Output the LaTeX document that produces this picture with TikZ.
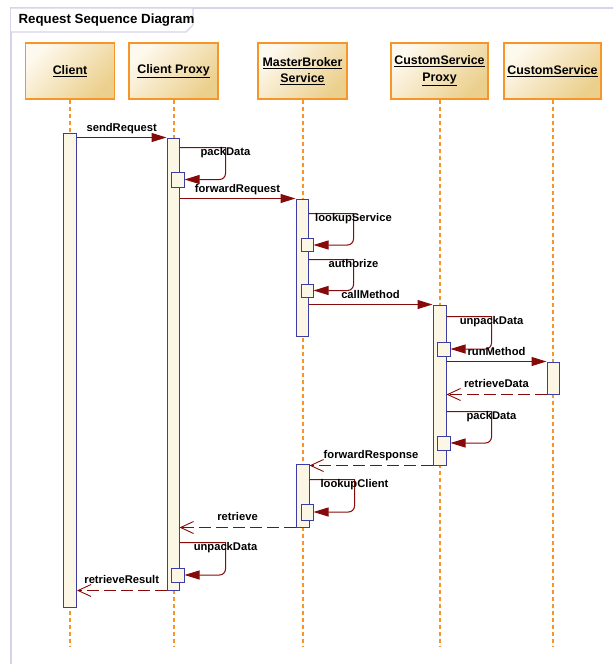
\documentclass[tikz,border=0pt]{standalone}
\usepackage{fontspec}
\setmainfont{Liberation Sans}
\usetikzlibrary{arrows.meta,positioning}
\definecolor{frameline}{RGB}{214,211,234}
\definecolor{headline}{RGB}{247,150,40}
\definecolor{headlight}{RGB}{254,249,238}
\definecolor{headdark}{RGB}{235,207,140}
\definecolor{actline}{RGB}{60,60,165}
\definecolor{actfill}{RGB}{252,246,228}
\definecolor{msgred}{RGB}{135,10,10}

\begin{document}
\begin{tikzpicture}[x=1pt,y=-1pt,font=\fontsize{11.2}{13}\selectfont\bfseries]
  \tikzstyle{head}=[draw=headline,line width=1.4pt,top color=headlight,bottom color=headdark,shading angle=45,minimum width=89pt,minimum height=56pt,align=center,font=\fontsize{12.4}{16.5}\selectfont\bfseries]
  \tikzstyle{life}=[draw=headline,line width=2pt,dash pattern=on 4pt off 3pt]
  \tikzstyle{act}=[draw=actline,fill=actfill,line width=1pt,inner sep=0pt,minimum width=12pt]
  \tikzstyle{call}=[draw=msgred,line width=1pt,-{Triangle[length=15pt,width=9pt]}]
  \tikzstyle{reply}=[draw=msgred,line width=1.8pt,dash pattern=on 12pt off 5pt,-{Straight Barb[length=13pt,width=12pt,line width=0.9pt]}]
  \tikzstyle{lbl}=[above,text height=8pt,text depth=2.5pt]
  \tikzstyle{slbl}=[text height=8pt,text depth=2.5pt,inner sep=0pt]

  \useasboundingbox (0,0) rectangle (613,664);

  \draw[frameline,line width=1.5pt] (613,8) -- (11,8) -- (11,664);
  \draw[frameline,line width=1.2pt,fill=white] (11,8) -- (193,8) -- (193,25) -- (186,32) -- (11,32);
  \node[anchor=west,font=\fontsize{13.3}{15}\selectfont\bfseries] (title) at (15,20) {Request Sequence Diagram};

  \node[head] (client)  at (70,71)    {\underline{Client}};
  \node[head] (cproxy)  at (173.5,71) {\underline{Client Proxy}};
  \node[head] (broker)  at (302.5,71) {\underline{MasterBroker}\\\underline{Service}};
  \node[head] (sproxy)  at (439.5,71) {\underline{CustomService}\\\underline{Proxy}};
  \node[head] (service) at (552.5,71) {\underline{CustomService}};

  \coordinate (end) at (0,647);
  \draw[life] (client) -- (client |- end);
  \draw[life] (cproxy) -- (cproxy |- end);
  \draw[life] (broker) -- (broker |- end);
  \draw[life] (sproxy) -- (sproxy |- end);
  \draw[life] (service) -- (service |- end);

  \node[act,minimum width=13pt,minimum height=474pt] (a1) at (70,370) {};
  \node[act,minimum height=452pt] (a2) at (173,364) {};
  \node[act,minimum height=137pt] (b1) at (302,267.5) {};
  \node[act,minimum width=13pt,minimum height=160pt] (c1) at (439.5,385) {};
  \node[act,minimum height=32pt] (d1) at (553,378) {};
  \node[act,minimum width=13pt,minimum height=63pt] (b2) at (302.5,495.5) {};

  \node[act,minimum width=13pt,minimum height=15pt] (s1) at (177.5,179.5) {};
  \node[act,minimum height=13pt] (s2) at (307,245) {};
  \node[act,minimum height=13pt] (s3) at (307,290.5) {};
  \node[act,minimum width=13pt,minimum height=14pt] (s4) at (443.5,349) {};
  \node[act,minimum width=13pt,minimum height=14pt] (s5) at (443.5,443) {};
  \node[act,minimum height=16pt] (s6) at (307,512) {};
  \node[act,minimum width=13pt,minimum height=14pt] (s7) at (177.5,575) {};

  \draw[call] (a1.east |- a2.north) -- node[lbl] (m1) {sendRequest} (a2.north west);
  \draw[call] ([yshift=-10pt]a2.north east) -- ++(46,0) coordinate (p1) {[rounded corners=6pt] |- (s1.east)};
  \node[slbl] (m2) at ([yshift=-5pt]p1) {packData};
  \draw[call] (a2.east |- b1.north) -- node[lbl] (m3) {forwardRequest} (b1.north west);
  \draw[call] ([yshift=-15pt]b1.north east) -- ++(45,0) coordinate (p2) {[rounded corners=6pt] |- (s2.east)};
  \node[slbl] (m4) at ([yshift=-5pt]p2) {lookupService};
  \draw[call] ([yshift=-61pt]b1.north east) -- ++(45,0) coordinate (p3) {[rounded corners=6pt] |- (s3.east)};
  \node[slbl] (m5) at ([yshift=-5pt]p3) {authorize};
  \draw[call] (b1.east |- c1.north) -- node[lbl] (m6) {callMethod} (c1.north west);
  \draw[call] ([yshift=-12pt]c1.north east) -- ++(45,0) coordinate (p4) {[rounded corners=6pt] |- (s4.east)};
  \node[slbl] (m7) at ([yshift=-5pt]p4) {unpackData};
  \draw[call] (c1.east |- d1.north) -- node[lbl] (m8) {runMethod} (d1.north west);
  \draw[reply] (d1.south west) -- node[lbl] (m9) {retrieveData} (c1.east |- d1.south);
  \draw[call] ([yshift=-107pt]c1.north east) -- ++(45,0) coordinate (p5) {[rounded corners=6pt] |- (s5.east)};
  \node[slbl] (m10) at ([yshift=-5pt]p5) {packData};
  \draw[reply] (c1.south west) -- node[lbl] (m11) {forwardResponse} (b2.east |- c1.south);
  \draw[call] ([yshift=-16pt]b2.north east) -- ++(45,0) coordinate (p6) {[rounded corners=6pt] |- (s6.east)};
  \node[slbl] (m12) at ([yshift=-5pt]p6) {lookupClient};
  \draw[reply] (b2.south west) -- node[lbl] (m13) {retrieve} (a2.east |- b2.south);
  \draw[call] ([yshift=-405pt]a2.north east) -- ++(46,0) coordinate (p7) {[rounded corners=6pt] |- (s7.east)};
  \node[slbl] (m14) at ([yshift=-5pt]p7) {unpackData};
  \draw[reply] (a2.south west) -- node[lbl] (m15) {retrieveResult} (a1.east |- a2.south);
\end{tikzpicture}
\end{document}
